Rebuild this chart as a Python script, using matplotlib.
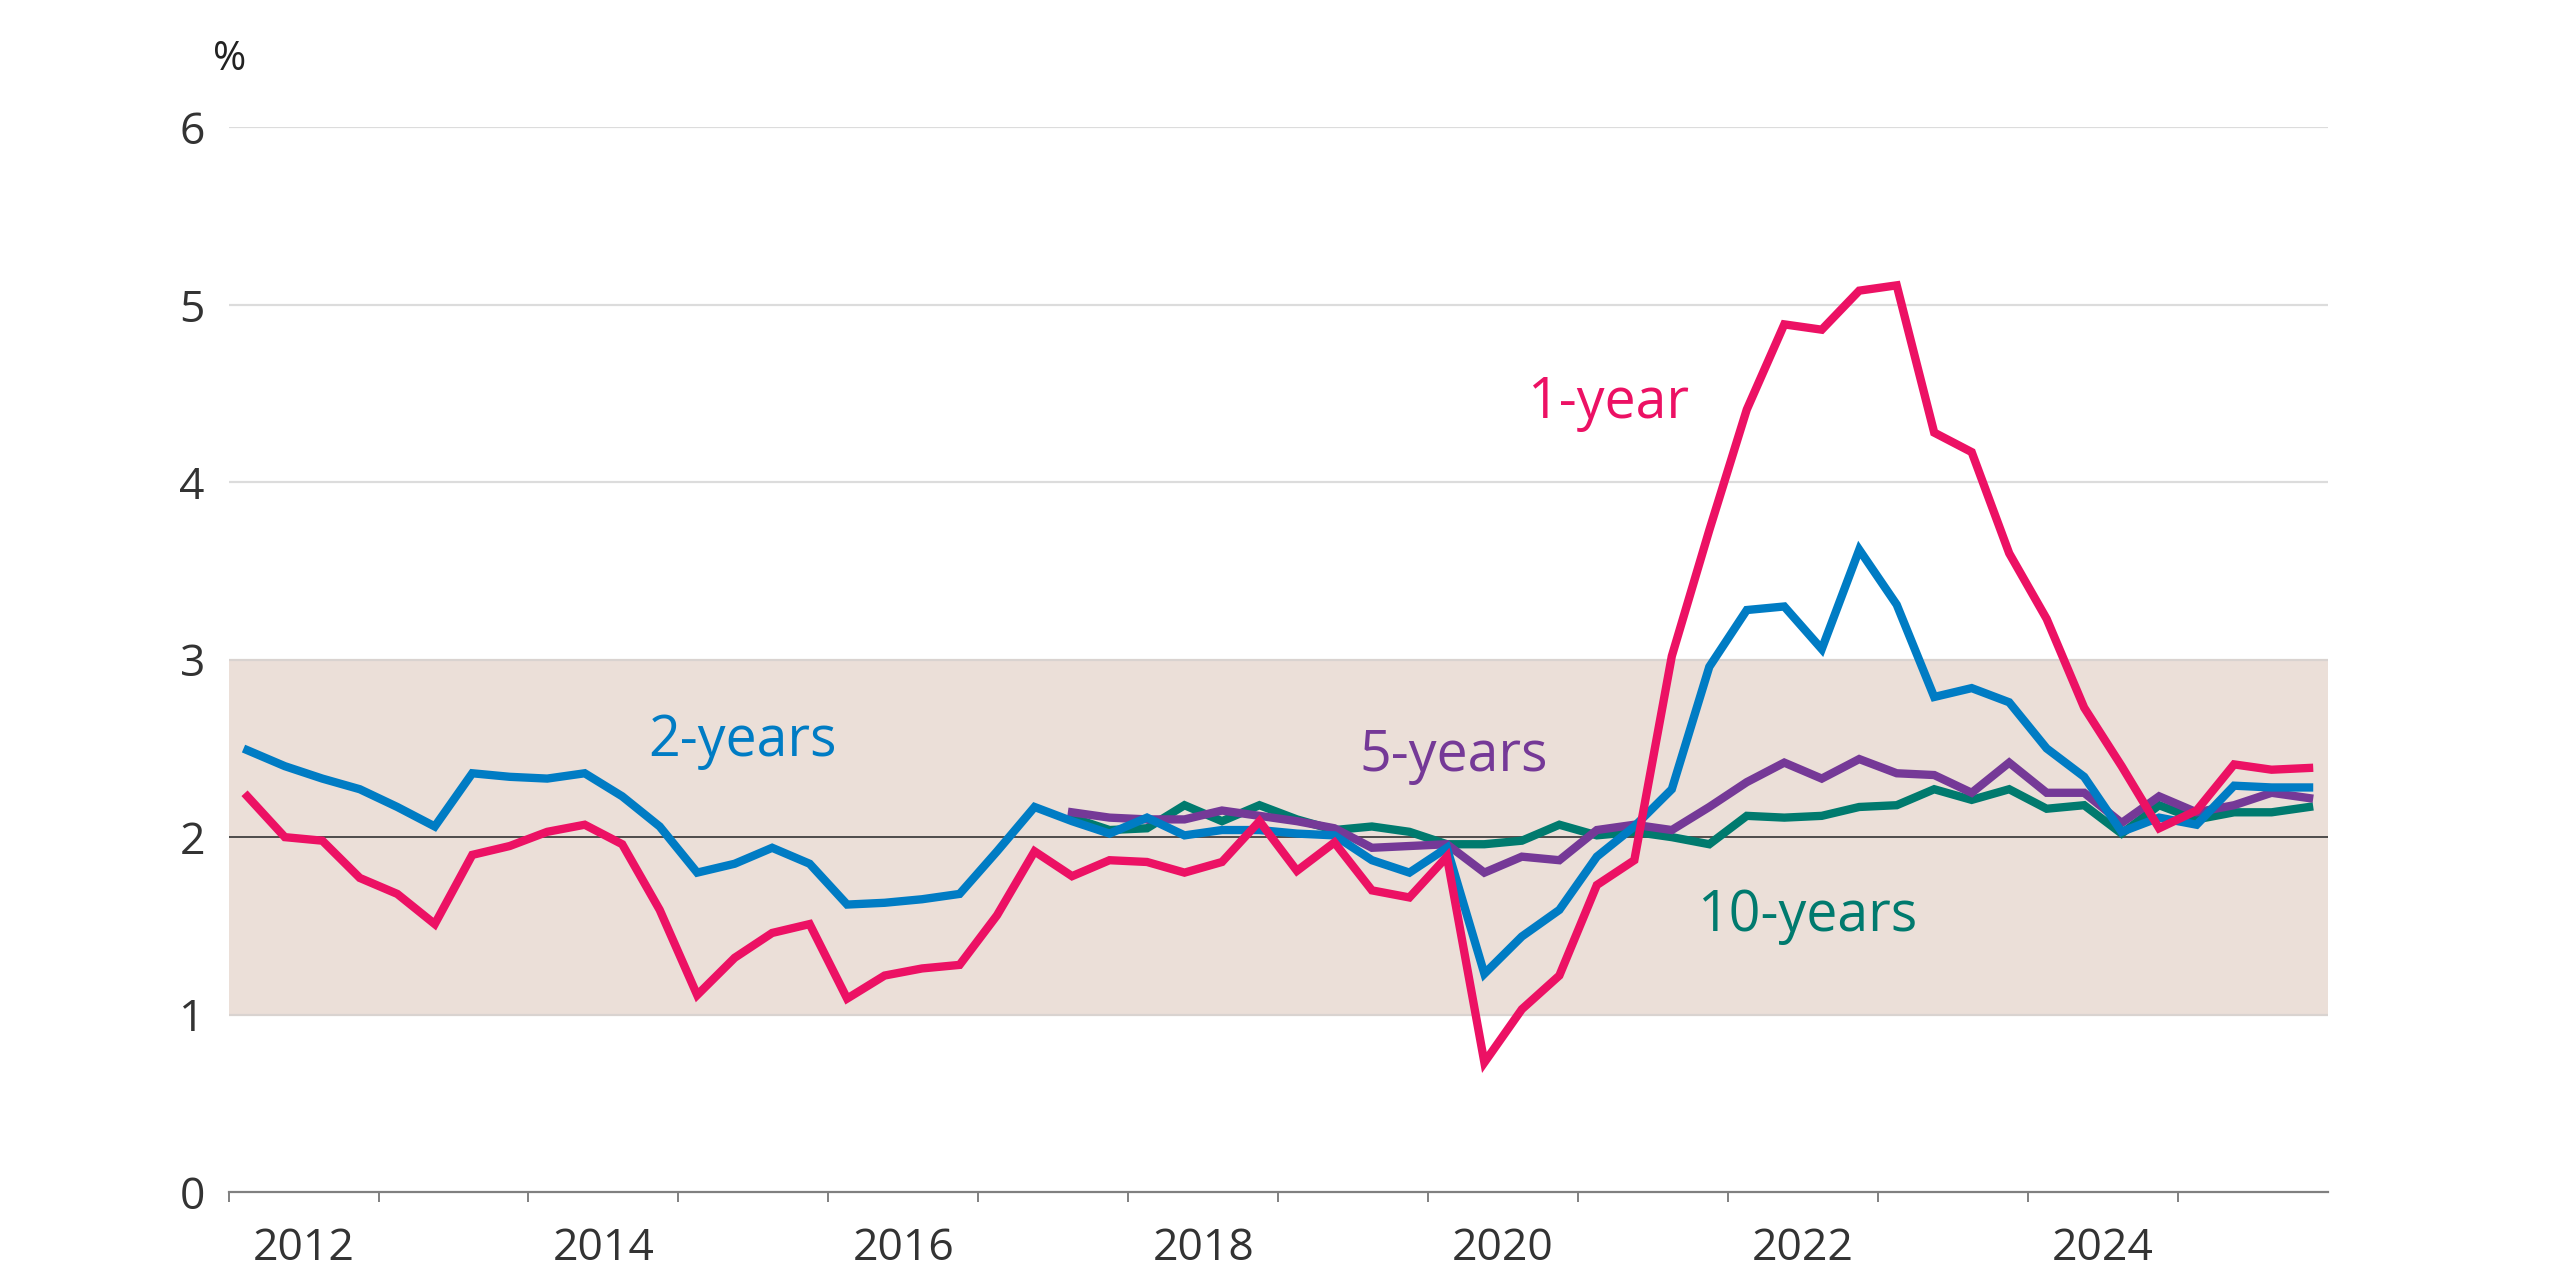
import numpy as np
import matplotlib
matplotlib.use("Agg")
import matplotlib.pyplot as plt

plt.rcParams['font.family'] = ['Open Sans', 'DejaVu Sans']

# quarterly observations, 2012Q1 - 2025Q4
years = np.arange(2012, 2026)
quarters = [y + (q - 0.5) / 4 for y in years for q in range(1, 5)]

one_year = [2.23, 2.00, 1.98, 1.77,
            1.68, 1.51, 1.90, 1.95,
            2.03, 2.07, 1.96, 1.59,
            1.11, 1.32, 1.46, 1.51,
            1.09, 1.22, 1.26, 1.28,
            1.56, 1.92, 1.78, 1.87,
            1.86, 1.80, 1.86, 2.09,
            1.81, 1.97, 1.70, 1.66,
            1.89, 0.73, 1.03, 1.22,
            1.73, 1.87, 3.02, 3.73,
            4.41, 4.89, 4.86, 5.08,
            5.11, 4.28, 4.17, 3.60,
            3.23, 2.73, 2.40, 2.05,
            2.15, 2.41, 2.38, 2.39]

two_years = [2.49, 2.40, 2.33, 2.27,
             2.17, 2.06, 2.36, 2.34,
             2.33, 2.36, 2.23, 2.06,
             1.80, 1.85, 1.94, 1.85,
             1.62, 1.63, 1.65, 1.68,
             1.92, 2.17, 2.09, 2.02,
             2.11, 2.01, 2.04, 2.04,
             2.02, 2.01, 1.87, 1.80,
             1.94, 1.23, 1.44, 1.59,
             1.89, 2.06, 2.27, 2.96,
             3.28, 3.30, 3.06, 3.62,
             3.31, 2.79, 2.84, 2.76,
             2.50, 2.34, 2.03, 2.11,
             2.07, 2.29, 2.28, 2.28]

nan = np.nan
five_years = [nan] * 22 + [2.14, 2.11,
              2.10, 2.10, 2.15, 2.12,
              2.09, 2.05, 1.94, 1.95,
              1.96, 1.80, 1.89, 1.87,
              2.04, 2.07, 2.04, 2.17,
              2.31, 2.42, 2.33, 2.44,
              2.36, 2.35, 2.25, 2.42,
              2.25, 2.25, 2.08, 2.23,
              2.14, 2.18, 2.25, 2.22]

ten_years = [nan] * 22 + [2.11, 2.04,
             2.05, 2.18, 2.09, 2.18,
             2.10, 2.04, 2.06, 2.03,
             1.96, 1.96, 1.98, 2.07,
             2.01, 2.03, 2.00, 1.96,
             2.12, 2.11, 2.12, 2.17,
             2.18, 2.27, 2.21, 2.27,
             2.16, 2.18, 2.02, 2.18,
             2.10, 2.14, 2.14, 2.17]

c_pink = '#EC1164'
c_blue = '#007CC4'
c_purple = '#753997'
c_green = '#007A6E'

fig = plt.figure(figsize=(25.6, 12.8), dpi=100)
ax = fig.add_axes([0.0893, 0.06875, 0.82, 0.8317])

ax.set_xlim(2012, 2026)
ax.set_ylim(0, 6)

# inflation target band and reference lines
ax.axhspan(1, 3, color='#EBDFD8', zorder=0, lw=0)
for v in [1, 3, 4, 5, 6]:
    ax.axhline(v, color='#D9D3D0' if v in (1, 3) else '#DCDCDC', lw=1.6, zorder=1)
ax.axhline(2, color='#333333', lw=1.2, zorder=1)

lw = 6
ax.plot(quarters, ten_years, color=c_green, lw=lw, zorder=2, solid_joinstyle='miter')
ax.plot(quarters, five_years, color=c_purple, lw=lw, zorder=3, solid_joinstyle='miter')
ax.plot(quarters, two_years, color=c_blue, lw=lw, zorder=4, solid_joinstyle='miter')
ax.plot(quarters, one_year, color=c_pink, lw=lw, zorder=5, solid_joinstyle='miter')

# series labels
lab_fs = 40
ax.text(2015.43, 2.46, '2-years', color=c_blue, fontsize=lab_fs, ha='center', va='baseline')
ax.text(2021.20, 4.36, '1-year', color=c_pink, fontsize=lab_fs, ha='center', va='baseline')
ax.text(2020.17, 2.37, '5-years', color=c_purple, fontsize=lab_fs, ha='center', va='baseline')
ax.text(2022.53, 1.47, '10-years', color=c_green, fontsize=lab_fs, ha='center', va='baseline')

# axes styling
for s in ['top', 'right', 'left']:
    ax.spines[s].set_visible(False)
ax.spines['bottom'].set_color('#808080')
ax.spines['bottom'].set_linewidth(1.6)

ax.set_xticks(list(years))
ax.set_xticklabels([])
ax.tick_params(axis='x', which='major', length=7.5, width=1.4, color='#808080', direction='out')
label_years = [2012, 2014, 2016, 2018, 2020, 2022, 2024]
ax.set_xticks([y + 0.5 for y in label_years], minor=True)
ax.set_xticklabels([str(y) for y in label_years], minor=True)
ax.tick_params(axis='x', which='minor', length=0, pad=25, labelsize=32, labelcolor='#333333')

ax.set_yticks(range(0, 7))
ax.tick_params(axis='y', length=0, pad=17, labelsize=32, labelcolor='#333333')

fig.text(230 / 2560, 1 - 60 / 1280, '%', fontsize=29, color='#222222', ha='center', va='center')

fig.savefig('out.png', dpi=100, facecolor='white')
